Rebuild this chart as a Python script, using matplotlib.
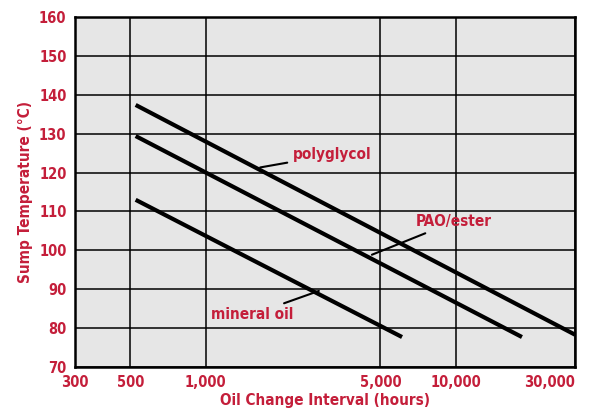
import matplotlib.pyplot as plt
from matplotlib.ticker import FixedLocator, NullLocator

red = '#c41e3a'
font = ['DejaVu Sans']

x_ticks = [300, 500, 1000, 5000, 10000, 30000]
x_labels = ['300', '500', '1,000', '5,000', '10,000', '30,000']
y_ticks = list(range(70, 161, 10))

# lines: (start hours, start temp), (end hours, end temp)
polyglycol_x = [525, 30000]
polyglycol_y = [137.4, 78.3]
pao_x = [525, 18400]
pao_y = [129.4, 77.7]
mineral_x = [525, 6100]
mineral_y = [113.0, 77.7]

fig = plt.figure(figsize=(5.99, 4.17), dpi=100)
ax = fig.add_axes([0.125, 0.12, 0.835, 0.839])
ax.set_facecolor('#e6e6e6')
ax.set_xscale('log')
ax.set_xlim(300, 30000)
ax.set_ylim(70, 160)

ax.xaxis.set_major_locator(FixedLocator(x_ticks))
ax.xaxis.set_minor_locator(NullLocator())
ax.set_xticklabels(x_labels)
ax.set_yticks(y_ticks)
ax.grid(True, color='black', linewidth=1.1)
for s in ax.spines.values():
    s.set_linewidth(1.8)
ax.tick_params(length=0, pad=6, labelcolor=red)
for lab in ax.get_xticklabels() + ax.get_yticklabels():
    lab.set_fontfamily(font)
    lab.set_fontweight('bold')
    lab.set_fontstretch('condensed')
    lab.set_fontsize(10.5)
ax.get_xticklabels()[-1].set_horizontalalignment('right')
ax.get_xticklabels()[-1].set_x(1.0)

for xs, ys in [(polyglycol_x, polyglycol_y), (pao_x, pao_y), (mineral_x, mineral_y)]:
    ax.plot(xs, ys, color='black', linewidth=3, solid_capstyle='butt')

kw = dict(color=red, fontsize=11, fontweight='bold', family=font, fontstretch='condensed',
          arrowprops=dict(arrowstyle='-', color='black', lw=1.5))
ax.annotate('polyglycol', xy=(1611, 121.2), xytext=(2230, 124.6), ha='left', va='center', **kw)
ax.annotate('PAO/ester', xy=(4514, 98.6), xytext=(6900, 107.3), ha='left', va='center', **kw)
ax.annotate('mineral oil', xy=(2905, 89.8), xytext=(2250, 83.5), ha='right', va='center', **kw)

ax.set_xlabel('Oil Change Interval (hours)', color=red, fontsize=11, fontweight='bold',
              family=font, fontstretch='condensed', labelpad=2)
ax.set_ylabel('Sump Temperature (°C)', color=red, fontsize=11, fontweight='bold',
              family=font, fontstretch='condensed', labelpad=4)

fig.savefig('out.png', dpi=100)
